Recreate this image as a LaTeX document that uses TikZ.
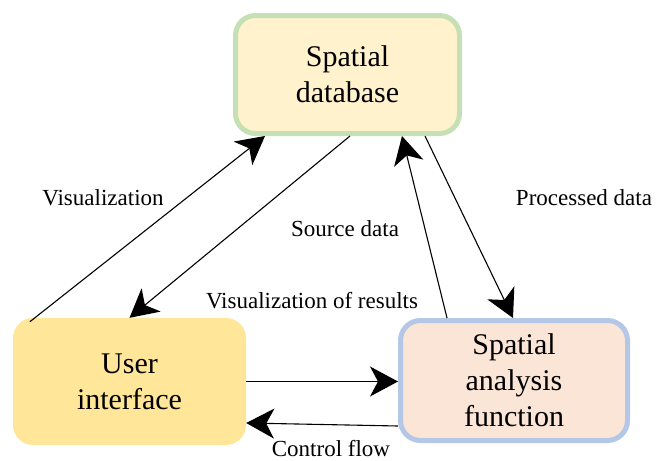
\documentclass[tikz,border=0pt]{standalone}
\usepackage{fontspec}
\setmainfont{Liberation Serif}
\usetikzlibrary{arrows.meta}
\definecolor{dbfill}{HTML}{FFF2CC}
\definecolor{dbline}{HTML}{C5E0B4}
\definecolor{uifill}{HTML}{FFE699}
\definecolor{spfill}{HTML}{FBE5D6}
\definecolor{spline}{HTML}{B4C7E7}
\tikzset{
  box/.style={rectangle, rounded corners=20pt, align=center,
    font=\fontsize{30}{36}\selectfont, inner sep=0pt},
  lbl/.style={font=\fontsize{23}{27}\selectfont, inner sep=0pt},
  flow/.style={line width=1.1pt, -{Stealth[length=28pt, width=30pt, inset=8pt]}}
}
\begin{document}
\begin{tikzpicture}[x=1pt, y=-1pt]
  \useasboundingbox (0,0) rectangle (657,461);
  % blocks
  \node[box, fill=dbfill, draw=dbline, line width=5pt,
        minimum width=224pt, minimum height=118pt] (db) at (347.5,74.5)
        {Spatial\\database};
  \node[box, fill=uifill, minimum width=233pt, minimum height=127pt]
        (ui) at (129.5,381.5) {User\\interface};
  \node[box, fill=spfill, draw=spline, line width=5pt,
        minimum width=227pt, minimum height=120pt] (sp) at (514,380.5)
        {Spatial\\analysis\\function};
  % connectors
  \draw[flow] ([xshift=17pt, yshift=-4pt]ui.north west) -- ([xshift=32pt]db.south west);
  \draw[flow] ([xshift=2.5pt]db.south) -- (ui.north);
  \draw[flow] ([xshift=-67pt]sp.north) -- ([xshift=54.5pt]db.south);
  \draw[flow] ([xshift=77.5pt]db.south) -- ([xshift=-1pt]sp.north);
  \draw[flow] (ui.east) -- (ui.east -| sp.west);
  \draw[flow] ([yshift=-45.5pt]sp.west) -- ([yshift=-41.5pt]ui.east);
  % labels
  \node[lbl] (l1) at (103,198) {Visualization};
  \node[lbl] (l2) at (345,229) {Source data};
  \node[lbl] (l3) at (312,301) {Visualization of results};
  \node[lbl] (l4) at (584,198) {Processed data};
  \node[lbl] (l5) at (331,449) {Control flow};
\end{tikzpicture}
\end{document}
